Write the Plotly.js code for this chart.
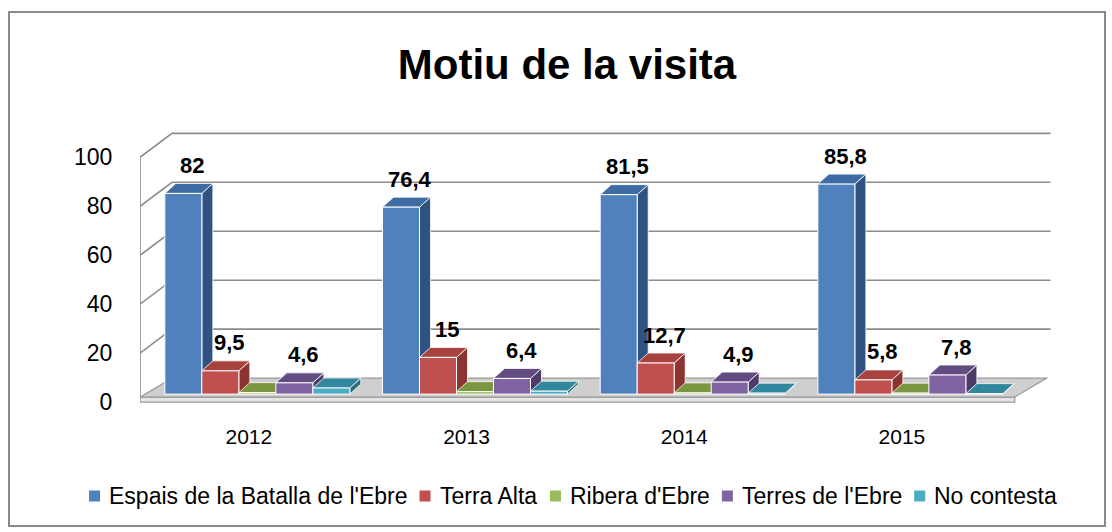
<!DOCTYPE html>
<html>
<head>
<meta charset="utf-8">
<script src="https://cdn.plot.ly/plotly-3.0.1.min.js"></script>
<style>
  html, body { margin: 0; padding: 0; background: #fff; }
  #wrap { position: relative; width: 1112px; height: 532px; }
  #chart { width: 1112px; height: 532px; }
  #frame { position: absolute; left: 8px; top: 11px; width: 1094px; height: 512px;
           border: 2px solid #8a8a8a; pointer-events: none; }
</style>
</head>
<body>
<div id="wrap"><div id="chart"></div><div id="frame"></div></div>
<script>
// ---------- data ----------
const categories = ['2012', '2013', '2014', '2015'];
const seriesNames = ["Espais de la Batalla de l'Ebre", 'Terra Alta', "Ribera d'Ebre", "Terres de l'Ebre", 'No contesta'];
const espais     = [82, 76.4, 81.5, 85.8];
const terraAlta  = [9.5, 15, 12.7, 5.8];
const ribera     = [0.6, 1.0, 0.5, 0.4];
const terres     = [4.6, 6.4, 4.9, 7.8];
const noContesta = [2.5, 1.2, 0.4, 0.2];
const yTicks = [0, 20, 40, 60, 80, 100];
const titleText = 'Motiu de la visita';

// ---------- styles ----------
const series = [espais, terraAlta, ribera, terres, noContesta];
const showLabel = [true, true, false, true, false];
const frontCol = ['#4F81BD', '#C0504D', '#9BBB59', '#8064A2', '#4BACC6'];
const topCol   = ['#3E6BA3', '#A8423F', '#7A963F', '#634C82', '#31879D'];
const sideCol  = ['#2E5380', '#8A3532', '#627A32', '#4D3B67', '#28707F'];

const FONT = 'Liberation Sans, Arial, sans-serif';
const W = 1112, H = 532;
const xRange = [-0.5, 3.685];
const yRange = [-2, 112];
const M = {l: 140, r: 61, t: 128, b: 125};
const plotW = W - M.l - M.r, plotH = H - M.t - M.b;
const pxX = plotW / (xRange[1] - xRange[0]);
const pxY = plotH / (yRange[1] - yRange[0]);
const toPaperX = px => (px - M.l) / plotW;
const toPaperY = py => (H - M.b - py) / plotH;

const BW = 37 / pxX;              // bar width (data units)
const BASE = 8 / pxY;             // bars stand a little behind the front plane
const SHIFT = 8.5 / pxX;          // depth shift to the right
const dX = 11 / pxX, dY = 10 / pxY;      // bar depth
const gX = 32 / pxX, gY = 24 / pxY;      // wall depth
const wallRight = xRange[1] - 0.002;
const floorRight = 3.5 + 4 / pxX;
const floorTop = 5 / pxY;

const fmt = v => String(v).replace('.', ',');

const traces = [];
const shapes = [];
const annotations = [];

// gridlines on side + back wall
yTicks.forEach(t => {
  if (t === 0) return;
  shapes.push({type: 'path', layer: 'below', xref: 'x', yref: 'y',
    path: `M${-0.5},${t} L${-0.5 + gX},${t + gY} L${wallRight},${t + gY}`,
    line: {color: '#8c8c8c', width: 1.6}});
});
// left front vertical edge
shapes.push({type: 'line', layer: 'below', xref: 'x', yref: 'y',
  x0: -0.5, x1: -0.5, y0: 0, y1: yTicks[yTicks.length - 1],
  line: {color: '#8c8c8c', width: 1.6}});
// floor front slab
shapes.push({type: 'rect', layer: 'below', xref: 'x', yref: 'y',
  x0: -0.5, x1: floorRight, y0: 0, y1: floorTop,
  fillcolor: '#e6e6e6', line: {color: '#9a9a9a', width: 1.2}});
// floor top surface
shapes.push({type: 'path', layer: 'below', xref: 'x', yref: 'y',
  path: `M${-0.5},${floorTop} L${floorRight},${floorTop} L${floorRight + gX},${floorTop + gY - 5/pxY} L${-0.5 + gX},${floorTop + gY - 5/pxY} Z`,
  fillcolor: '#cfcfcf', line: {color: '#9a9a9a', width: 1.2}});

series.forEach((vals, i) => {
  const off = -0.425 + SHIFT + i * BW;
  traces.push({
    type: 'bar', name: seriesNames[i],
    x: categories.map((c, k) => k), y: vals,
    base: vals.map(() => BASE),
    offset: off, width: BW,
    marker: {color: frontCol[i], line: {color: '#ffffff', width: 1}},
    hovertemplate: '%{y}<extra>' + seriesNames[i] + '</extra>'
  });
  vals.forEach((v, k) => {
    const xl = k + off, xr = xl + BW, y0 = BASE, y1 = BASE + v;
    shapes.push({type: 'path', layer: 'below', xref: 'x', yref: 'y',
      path: `M${xr},${y0} L${xr + dX},${y0 + dY} L${xr + dX},${y1 + dY} L${xr},${y1} Z`,
      fillcolor: sideCol[i], line: {color: '#ffffff', width: 0.8}});
    shapes.push({type: 'path', layer: 'below', xref: 'x', yref: 'y',
      path: `M${xl},${y1} L${xr},${y1} L${xr + dX},${y1 + dY} L${xl + dX},${y1 + dY} Z`,
      fillcolor: topCol[i], line: {color: '#ffffff', width: 0.8}});
    if (showLabel[i]) {
      annotations.push({xref: 'x', yref: 'y', x: xl + BW / 2, y: y1,
        xshift: 9, yshift: 28, showarrow: false, text: fmt(v),
        xanchor: 'center', yanchor: 'middle',
        font: {family: FONT, size: 22, color: '#000', weight: 'bold'}});
    }
  });
});

// ---------- legend row (squares + labels), laid out from measured text ----------
const LEG_SIZE = 23, SQ = 11, SQ_GAP = 9, ITEM_GAP = 12, LEG_CX = 573, LEG_CY = 496;
const ctx = document.createElement('canvas').getContext('2d');
ctx.font = LEG_SIZE + 'px "Liberation Sans", Arial, sans-serif';
const widths = seriesNames.map(n => ctx.measureText(n).width);
const total = widths.reduce((a, w) => a + SQ + SQ_GAP + w, 0) + ITEM_GAP * (seriesNames.length - 1);
let cx = LEG_CX - total / 2;
seriesNames.forEach((n, i) => {
  shapes.push({type: 'rect', layer: 'above', xref: 'paper', yref: 'paper',
    x0: toPaperX(cx), x1: toPaperX(cx + SQ),
    y0: toPaperY(LEG_CY + SQ / 2), y1: toPaperY(LEG_CY - SQ / 2),
    fillcolor: frontCol[i], line: {width: 0}});
  cx += SQ + SQ_GAP;
  annotations.push({xref: 'paper', yref: 'paper', x: toPaperX(cx - 2), y: toPaperY(LEG_CY),
    xanchor: 'left', yanchor: 'middle', showarrow: false, text: n,
    font: {family: FONT, size: LEG_SIZE, color: '#000'}});
  cx += widths[i] + ITEM_GAP;
});

const layout = {
  width: W, height: H,
  margin: M,
  paper_bgcolor: '#ffffff', plot_bgcolor: '#ffffff',
  barmode: 'overlay',
  title: {text: titleText, x: 567 / W, xref: 'container', xanchor: 'center',
          y: 1 - 64 / H, yref: 'container', yanchor: 'middle',
          font: {family: FONT, size: 42, color: '#000', weight: 'bold'}},
  xaxis: {range: xRange, tickvals: categories.map((c, k) => k), ticktext: categories,
          showgrid: false, zeroline: false, showline: false,
          ticks: 'outside', ticklen: 11, tickcolor: 'rgba(0,0,0,0)',
          tickfont: {family: FONT, size: 21, color: '#000'}, fixedrange: true},
  yaxis: {range: yRange, tickvals: yTicks, ticktext: yTicks.map(String),
          showgrid: false, zeroline: false, showline: false,
          ticks: 'outside', ticklen: 22, tickcolor: 'rgba(0,0,0,0)',
          tickfont: {family: FONT, size: 23, color: '#000'}, fixedrange: true},
  showlegend: false,
  shapes: shapes,
  annotations: annotations
};

Plotly.newPlot('chart', traces, layout, {displayModeBar: false, staticPlot: true});
</script>
</body>
</html>
